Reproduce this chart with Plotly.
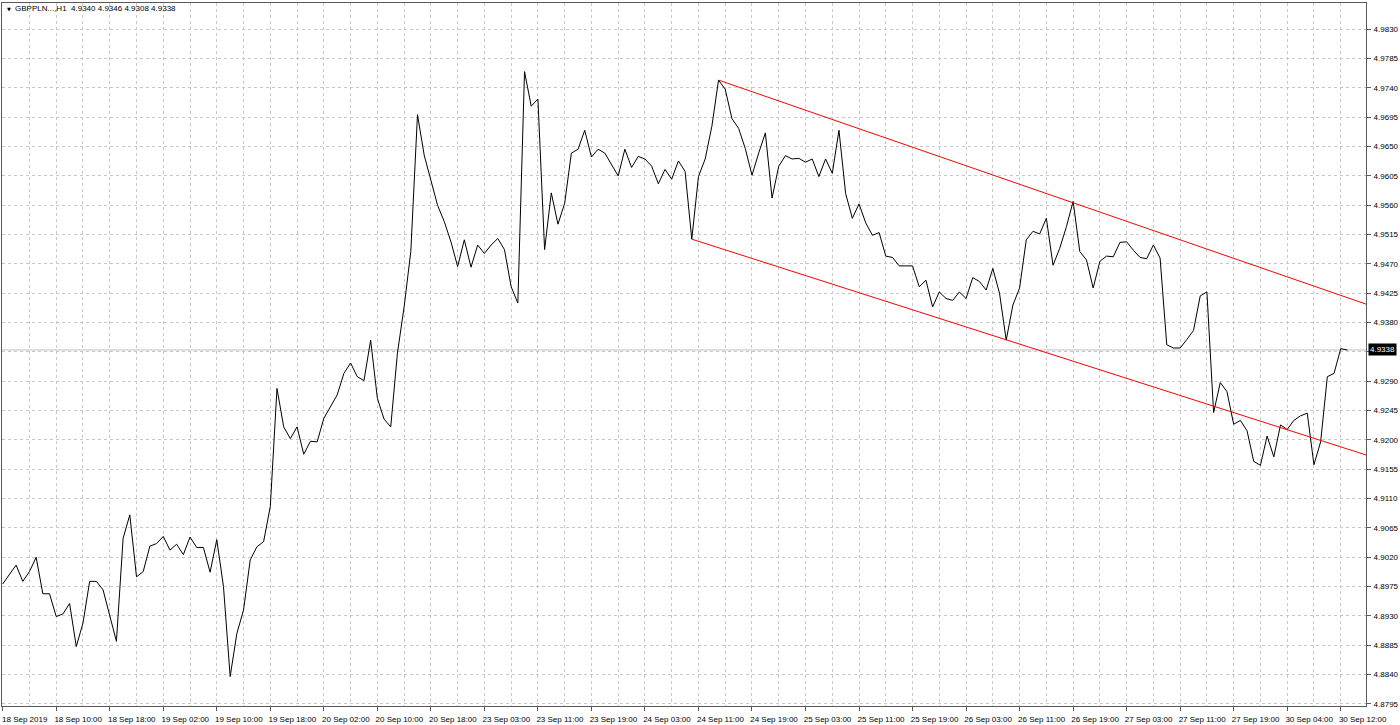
import plotly.graph_objects as go

# ---------------- data ----------------
symbol_title = "GBPPLN...,H1  4.9340 4.9346 4.9308 4.9338"
last_price = 4.9338

time_labels = [
    "18 Sep 2019", "18 Sep 10:00", "18 Sep 18:00", "19 Sep 02:00", "19 Sep 10:00",
    "19 Sep 18:00", "20 Sep 02:00", "20 Sep 10:00", "20 Sep 18:00", "23 Sep 03:00",
    "23 Sep 11:00", "23 Sep 19:00", "24 Sep 03:00", "24 Sep 11:00", "24 Sep 19:00",
    "25 Sep 03:00", "25 Sep 11:00", "25 Sep 19:00", "26 Sep 03:00", "26 Sep 11:00",
    "26 Sep 19:00", "27 Sep 03:00", "27 Sep 11:00", "27 Sep 19:00", "30 Sep 04:00",
    "30 Sep 12:00",
]
bars_per_label = 8
bars_per_grid = 4

price_ticks = [
    4.8795, 4.8840, 4.8885, 4.8930, 4.8975, 4.9020, 4.9065, 4.9110, 4.9155, 4.9200,
    4.9245, 4.9290, 4.9335, 4.9380, 4.9425, 4.9470, 4.9515, 4.9560, 4.9605, 4.9650,
    4.9695, 4.9740, 4.9785, 4.9830,
]
# 4.9335 is hidden behind the current-price label in the original; keep the axis regular
price_tick_text = ["%.4f" % v if abs(v - 4.9335) > 1e-9 else "" for v in price_ticks]

closes = [
    4.8979, 4.8994, 4.9008, 4.8983, 4.8998, 4.9020, 4.8964, 4.8964, 4.8929, 4.8933,
    4.8949, 4.8883, 4.8919, 4.8983, 4.8983, 4.8970, 4.8931, 4.8891, 4.9049, 4.9085,
    4.8990, 4.8998, 4.9037, 4.9041, 4.9052, 4.9031, 4.9040, 4.9024, 4.9051, 4.9035,
    4.9035, 4.8997, 4.9047, 4.8975, 4.8837, 4.8903, 4.8939, 4.9016, 4.9036, 4.9044,
    4.9098, 4.9279, 4.9220, 4.9202, 4.9220, 4.9178, 4.9198, 4.9197, 4.9233, 4.9251,
    4.9269, 4.9302, 4.9318, 4.9297, 4.9291, 4.9353, 4.9264, 4.9232, 4.9220, 4.9333,
    4.9404, 4.9489, 4.9699, 4.9637, 4.9599, 4.9560, 4.9535, 4.9504, 4.9466, 4.9507,
    4.9465, 4.9499, 4.9486, 4.9499, 4.9509, 4.9492, 4.9435, 4.9410, 4.9765, 4.9712,
    4.9723, 4.9492, 4.9579, 4.9531, 4.9563, 4.9640, 4.9646, 4.9675, 4.9634, 4.9646,
    4.9640, 4.9622, 4.9605, 4.9646, 4.9618, 4.9635, 4.9631, 4.9620, 4.9593, 4.9615,
    4.9600, 4.9628, 4.9612, 4.9508, 4.9604, 4.9631, 4.9681, 4.9752, 4.9738, 4.9693,
    4.9678, 4.9647, 4.9606, 4.9640, 4.9671, 4.9571, 4.9620, 4.9636, 4.9631, 4.9632,
    4.9626, 4.9631, 4.9604, 4.9631, 4.9609, 4.9675, 4.9578, 4.9540, 4.9562, 4.9533,
    4.9514, 4.9518, 4.9482, 4.9480, 4.9467, 4.9467, 4.9467, 4.9435, 4.9445, 4.9404,
    4.9427, 4.9417, 4.9414, 4.9427, 4.9417, 4.9449, 4.9443, 4.9430, 4.9463, 4.9425,
    4.9353, 4.9407, 4.9433, 4.9507, 4.9520, 4.9516, 4.9540, 4.9468, 4.9494, 4.9527,
    4.9566, 4.9489, 4.9476, 4.9433, 4.9474, 4.9482, 4.9481, 4.9503, 4.9504, 4.9491,
    4.9480, 4.9478, 4.9499, 4.9479, 4.9346, 4.9341, 4.9341, 4.9354, 4.9368, 4.9421,
    4.9427, 4.9242, 4.9288, 4.9274, 4.9224, 4.9230, 4.9214, 4.9167, 4.9161, 4.9206,
    4.9174, 4.9223, 4.9216, 4.9230, 4.9237, 4.9241, 4.9162, 4.9197, 4.9297, 4.9302,
    4.9340, 4.9338,
]

# trend lines: two anchor points (bar index, price) each, drawn as rays to the right
upper_trend_bars = [107, 160]
upper_trend_prices = [4.9752, 4.95638]
lower_trend_bars = [103, 150]
lower_trend_prices = [4.9508, 4.93536]

# ---------------- view ----------------
x_range = [-0.105, 203.78]
y_range = [4.87918, 4.98703]

font_family = "Liberation Sans, Arial, sans-serif"
grid_color = "#c8c8c8"
frame_color = "#5a5a5a"


def ray(bars, prices, x_end):
    slope = (prices[1] - prices[0]) / (bars[1] - bars[0])
    return [bars[0], x_end], [prices[0], prices[0] + slope * (x_end - bars[0])]


fig = go.Figure()

fig.add_trace(go.Scatter(
    x=list(range(len(closes))), y=closes, mode="lines",
    line=dict(color="black", width=1), hoverinfo="skip", showlegend=False,
))

for bars, prices in [(upper_trend_bars, upper_trend_prices), (lower_trend_bars, lower_trend_prices)]:
    xs, ys = ray(bars, prices, x_range[1])
    fig.add_trace(go.Scatter(
        x=xs, y=ys, mode="lines", line=dict(color="#ff0000", width=1),
        hoverinfo="skip", showlegend=False, cliponaxis=True,
    ))

# current price line
fig.add_shape(type="line", xref="paper", x0=0, x1=1, yref="y", y0=last_price, y1=last_price,
              line=dict(color="#c0c0c0", width=1), layer="below")

major_vals = [i * bars_per_label for i in range(len(time_labels))]
minor_vals = [v + bars_per_grid for v in major_vals]

fig.update_xaxes(
    range=x_range, tickmode="array", tickvals=major_vals, ticktext=time_labels,
    ticks="outside", ticklen=4, tickcolor=frame_color, tickwidth=1,
    ticklabelshift=22, ticklabelstandoff=1,
    showgrid=True, gridcolor=grid_color, griddash="3px,3px", gridwidth=1,
    minor=dict(tickmode="array", tickvals=minor_vals, showgrid=True, gridcolor=grid_color,
               griddash="3px,3px", gridwidth=1, ticks=""),
    showline=True, mirror=True, linecolor=frame_color, linewidth=1,
    zeroline=False, tickfont=dict(family=font_family, size=8, color="black"),
    automargin=False, fixedrange=True,
)
fig.update_yaxes(
    range=y_range, side="right", tickmode="array", tickvals=price_ticks, ticktext=price_tick_text,
    ticks="outside", ticklen=4, tickcolor=frame_color, tickwidth=1, ticklabelstandoff=1,
    showgrid=True, gridcolor=grid_color, griddash="3px,3px", gridwidth=1,
    showline=True, mirror=True, linecolor=frame_color, linewidth=1,
    zeroline=False, tickfont=dict(family=font_family, size=8, color="black"),
    automargin=False, fixedrange=True,
)

# symbol header
fig.add_annotation(text="▼", xref="paper", yref="paper", x=0, y=1, xanchor="left", yanchor="middle",
                   xshift=3, yshift=-5.5, showarrow=False,
                   font=dict(family="DejaVu Sans", size=5, color="black"))
fig.add_annotation(text=symbol_title, xref="paper", yref="paper", x=0, y=1, xanchor="left",
                   yanchor="middle", xshift=11, yshift=-5.5, showarrow=False,
                   font=dict(family=font_family, size=8, color="black"))
# current price tag
fig.add_annotation(text="%.4f" % last_price, xref="paper", yref="y", x=1, y=last_price,
                   xanchor="left", yanchor="middle", xshift=2, showarrow=False,
                   bgcolor="black", borderpad=1,
                   font=dict(family=font_family, size=8, color="white"))

fig.update_layout(
    width=1400, height=725,
    margin=dict(l=2, r=34, t=3, b=19),
    paper_bgcolor="white", plot_bgcolor="white",
    showlegend=False,
)

fig.write_html(
    "out.html",
    config={"displayModeBar": False},
    post_script="document.body.style.margin='0';document.body.style.overflow='hidden';",
)
